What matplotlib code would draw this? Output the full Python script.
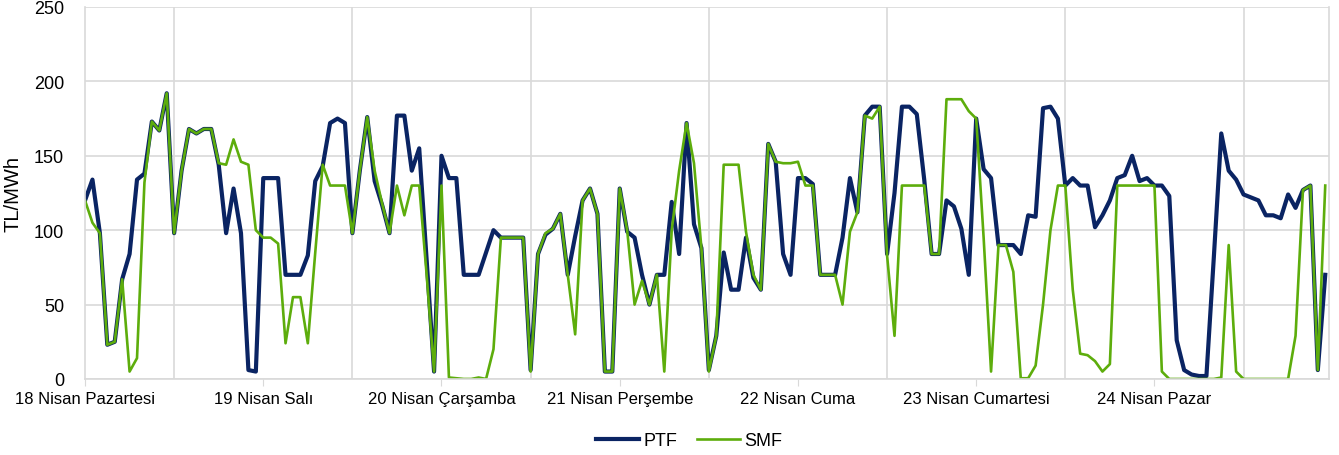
import matplotlib
matplotlib.use("Agg")
import matplotlib.pyplot as plt
import numpy as np

plt.rcParams['font.family'] = ['Liberation Sans', 'DejaVu Sans']

# --- DATA (hourly, 18-24 April) ---
days = ["18 Nisan Pazartesi", "19 Nisan Salı", "20 Nisan Çarşamba", "21 Nisan Perşembe",
        "22 Nisan Cuma", "23 Nisan Cumartesi", "24 Nisan Pazar"]

ptf = [120, 134, 98, 23, 25, 67, 84, 134, 138, 173, 167, 192, 98, 140, 168, 165, 168, 168, 144, 98, 128, 98, 6, 5,
       135, 135, 135, 70, 70, 70, 83, 133, 143, 172, 175, 172, 98, 140, 176, 133, 117, 98, 177, 177, 140, 155, 80, 5,
       150, 135, 135, 70, 70, 70, 85, 100, 95, 95, 95, 95, 6, 84, 97, 101, 111, 70, 96, 120, 128, 111, 5, 5,
       128, 99, 95, 70, 50, 70, 70, 119, 84, 172, 104, 88, 6, 29, 85, 60, 60, 95, 68, 60, 158, 146, 84, 70,
       135, 135, 131, 70, 70, 70, 95, 135, 112, 177, 183, 183, 84, 125, 183, 183, 178, 134, 84, 84, 120, 116, 101, 70,
       175, 141, 135, 90, 90, 90, 84, 110, 109, 182, 183, 175, 130, 135, 130, 130, 102, 110, 120, 135, 137, 150, 133, 135,
       130, 130, 123, 26, 6, 3, 2, 2, 82, 165, 140, 134, 124, 122, 120, 110, 110, 108, 124, 115, 127, 130, 6, 70]

smf = [120, 105, 98, 23, 25, 67, 5, 14, 132, 173, 167, 192, 98, 140, 168, 165, 168, 168, 145, 144, 161, 146, 144, 100,
       95, 95, 91, 24, 55, 55, 24, 85, 144, 130, 130, 130, 98, 140, 176, 140, 118, 98, 130, 110, 130, 130, 70, 5,
       130, 1, 0.5, 0, 0, 1, 0, 20, 95, 95, 95, 95, 5, 84, 98, 101, 111, 70, 30, 120, 128, 111, 5, 5,
       128, 100, 50, 66, 50, 70, 5, 100, 140, 172, 145, 88, 5, 29, 144, 144, 144, 99, 70, 60, 158, 146, 145, 145,
       146, 130, 130, 70, 70, 70, 50, 99, 112, 177, 175, 183, 83, 29, 130, 130, 130, 130, 84, 84, 188, 188, 188, 180,
       175, 95, 5, 90, 90, 72, 0.5, 0.5, 9, 50, 100, 130, 130, 60, 17, 16, 12, 5, 10, 130, 130, 130, 130, 130,
       130, 5, 0, 0, 0, 0, 0, 0, 0, 1, 90, 5, 0, 0, 0, 0, 0, 0, 0, 29, 127, 130, 6, 130]

hours = np.arange(len(ptf))

# --- PLOT ---
fig = plt.figure(figsize=(13.39, 4.56), dpi=100)
ax = fig.add_axes([0.0635, 0.1667, 0.9290, 0.8158])

ax.plot(hours, ptf, color='#0A2463', lw=3.0, label='PTF', solid_joinstyle='round')
ax.plot(hours, smf, color='#5DAD0C', lw=1.9, label='SMF', solid_joinstyle='round')

ax.set_xlim(0, 167.5)
ax.set_ylim(0, 250)
ax.set_yticks(range(0, 251, 50))
ax.set_xticks(range(0, 168, 24))
ax.set_xticklabels(days)
ax.set_xticks(range(0, 168, 12), minor=True)

ax.grid(True, which='minor', axis='x', color='#D9D9D9', lw=1.2)
ax.grid(True, which='major', axis='y', color='#D9D9D9', lw=1.2)
ax.set_axisbelow(True)

ax.spines['top'].set_visible(False)
for s in ['left', 'right', 'bottom']:
    ax.spines[s].set_color('#D9D9D9')
    ax.spines[s].set_linewidth(1.2)

ax.tick_params(axis='y', length=0, labelsize=13, pad=15)
ax.tick_params(axis='x', which='major', length=5, color='#D9D9D9', labelsize=12, pad=4)
ax.tick_params(axis='x', which='minor', length=0)

ax.set_ylabel('TL/MWh', fontsize=14.5)
ax.yaxis.set_label_coords(-0.05, 0.5)

fig.legend(loc='center', ncol=2, frameon=False, fontsize=13,
           bbox_to_anchor=(0.5145, 0.031), handlelength=2.4, columnspacing=1.1, handletextpad=0.2)

fig.savefig('out.png', dpi=100)
